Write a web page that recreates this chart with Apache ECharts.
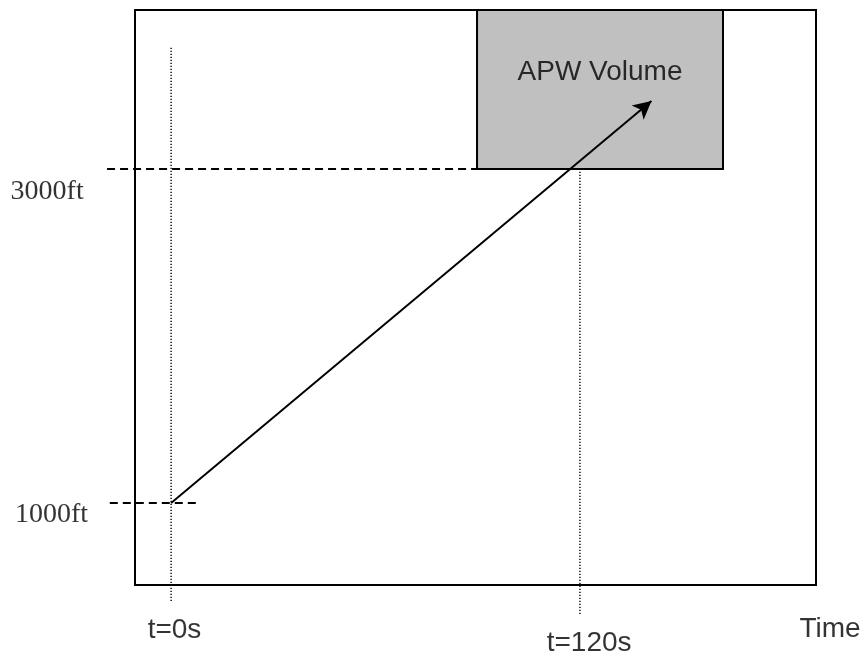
<!DOCTYPE html>
<html>
<head>
<meta charset="utf-8">
<script src="https://cdn.jsdelivr.net/npm/echarts@6/dist/echarts.min.js"></script>
<style>html,body{margin:0;padding:0;background:#fff}#c{width:866px;height:655px}</style>
</head>
<body>
<div id="c"></div>
<script>
// Altitude reference lines (ft) and their horizontal extent (s)
const altitudeTicks = [3000, 1000];
const altitudeLabels = ['3000ft', '1000ft'];
const altitudeGuideFrom = [-18.8, -18.0];
const altitudeGuideTo = [89.8, 7.9];
const altitudeLabelAt = [[-36.4, 2862], [-35.1, 928]];
// Time reference lines (s) and their vertical extent (ft)
const timeTicks = [0, 120];
const timeLabels = ['t=0s', 't=120s'];
const timeGuideFrom = [413, 335];
const timeGuideTo = [3730, 3000];
const timeLabelAt = [[1.0, 240], [122.7, 162]];
// Axis title
const axisTitle = 'Time';
const axisTitleAt = [193.4, 245];
// APW volume block
const apwName = 'APW Volume';
const apwTime = [89.8, 162];
const apwAltitude = [3000, 3952];
const apwLabelAt = [125.9, 3581];
// Climb path
const climbStart = [0, 1000];
const climbEnd = [141, 3407];
// Visible ranges
const timeRange = [-10.6, 189.3];
const altitudeRange = [509, 3952];

const serif = 'Liberation Serif, Times New Roman, serif';
const sans = 'Liberation Sans, Arial, sans-serif';

// segments: [x1, y1, x2, y2, kind]  kind 0 = dashed, 1 = dotted
const segments = [];
altitudeTicks.forEach((a, i) => segments.push([altitudeGuideFrom[i], a, altitudeGuideTo[i], a, 0]));
timeTicks.forEach((t, i) => segments.push([t, timeGuideFrom[i], t, timeGuideTo[i], 1]));

const series = [];
series.push({
  type: 'custom', silent: true, clip: false, animation: false,
  data: segments,
  encode: {x: [0, 2], y: [1, 3]},
  renderItem: function (params, api) {
    const p1 = api.coord([api.value(0), api.value(1)]);
    const p2 = api.coord([api.value(2), api.value(3)]);
    const dotted = api.value(4) === 1;
    return {
      type: 'line',
      shape: {x1: p1[0], y1: p1[1], x2: p2[0], y2: p2[1]},
      style: dotted
        ? {stroke: '#000', lineWidth: 1.4, lineDash: [1.4, 1.6]}
        : {stroke: '#000', lineWidth: 2, lineDash: [8, 5]}
    };
  },
  z: 3
});
// APW block + arrow
series.push({
  type: 'line', silent: true, symbol: 'none', animation: false,
  data: [],
  markArea: {
    silent: true,
    itemStyle: {color: '#c0c0c0', borderColor: '#000', borderWidth: 2},
    data: [[{coord: [apwTime[0], apwAltitude[0]]}, {coord: [apwTime[1], apwAltitude[1]]}]],
    label: {show: false}
  },
  markLine: {
    silent: true, animation: false,
    symbol: ['none', 'arrow'], symbolSize: [14, 18],
    lineStyle: {color: '#000', width: 2, type: 'solid'},
    label: {show: false},
    data: [[{coord: climbStart}, {coord: climbEnd}]]
  },
  z: 2
});
// Text labels
function labelSeries(points, texts, font) {
  return {
    type: 'scatter', silent: true, clip: false, animation: false,
    symbolSize: 1, itemStyle: {color: 'rgba(0,0,0,0)'},
    data: points.map((p, i) => ({value: p, label: {formatter: texts[i]}})),
    label: {show: true, position: 'inside', color: '#000', fontSize: 28, fontFamily: font},
    z: 5
  };
}
series.push(labelSeries(altitudeLabelAt, altitudeLabels, serif));
series.push(labelSeries(timeLabelAt, timeLabels, sans));
series.push(labelSeries([axisTitleAt], [axisTitle], sans));
series.push(labelSeries([apwLabelAt], [apwName], sans));

const chart = echarts.init(document.getElementById('c'));
chart.setOption({
  backgroundColor: '#fff',
  animation: false,
  grid: {left: 135, top: 10, width: 681, height: 575, show: true, borderColor: '#000', borderWidth: 2, backgroundColor: 'transparent'},
  xAxis: {type: 'value', min: timeRange[0], max: timeRange[1], show: true,
    axisLine: {show: false}, axisTick: {show: false}, axisLabel: {show: false}, splitLine: {show: false}},
  yAxis: {type: 'value', min: altitudeRange[0], max: altitudeRange[1], show: true,
    axisLine: {show: false}, axisTick: {show: false}, axisLabel: {show: false}, splitLine: {show: false}},
  series: series
});
</script>
</body>
</html>
